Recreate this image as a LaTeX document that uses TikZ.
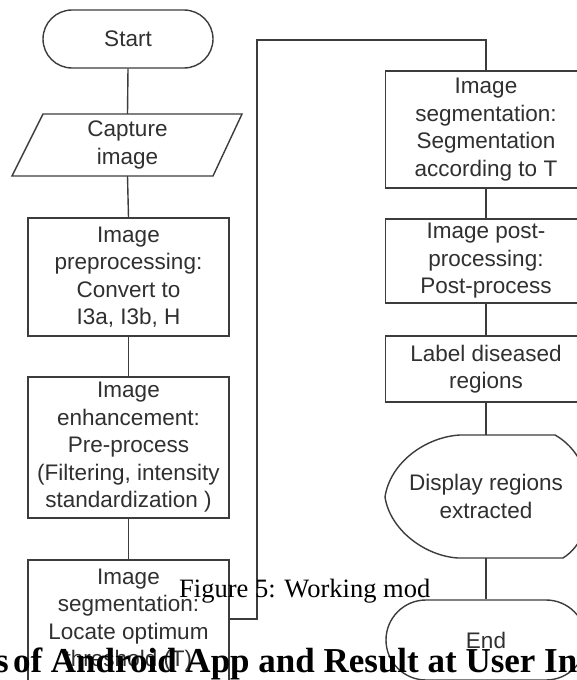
\documentclass[tikz,border=0pt]{standalone}
\usepackage{fontspec}
\setmainfont{Liberation Sans}
\newfontfamily\capserif{Liberation Serif}
\definecolor{linegray}{HTML}{3C3C3C}
\definecolor{textgray}{HTML}{303030}
\begin{document}
\begin{tikzpicture}[x=1pt,y=-1pt,
  flowtext/.style={text=textgray, align=center, font=\fontsize{22.5}{27.5}\selectfont, inner sep=0pt},
  procbox/.style={flowtext, draw=linegray, line width=1.4pt, rectangle, minimum width=201pt},
  termbox/.style={flowtext, draw=linegray, line width=1.4pt, rectangle},
  shapeline/.style={draw=linegray, line width=1.4pt},
  conn/.style={draw=linegray, line width=1.4pt},
  pagetext/.style={anchor=base west, inner sep=0pt, text=black}]
\path[use as bounding box, fill=white] (0,0) rectangle (577,680);
\clip (0,0) rectangle (577,680);

% left column
\node[termbox, minimum width=170pt, minimum height=58pt, rounded corners=29pt] (start) at (128,39) {Start};
\draw[shapeline] (43,114) -- (242,114) -- (213,176) -- (12,176) -- cycle;
\node[flowtext, minimum height=62pt] (capture) at (127.5,145) {Capture\\image};
\node[procbox, minimum height=118pt] (pre) at (128.5,277) {Image\\preprocessing:\\Convert to\\I3a, I3b, H};
\node[procbox, minimum height=141pt] (enh) at (128.5,447.5) {Image\\enhancement:\\Pre-process\\(Filtering, intensity\\standardization )};
\node[procbox, minimum height=140pt] (seg1) at (128.5,630) {};
\node[flowtext] (seg1text) at (128.5,620) {Image\\segmentation:\\Locate optimum\\threshold (T)};

% right column
\node[procbox, minimum height=117pt] (seg2) at (486,129.5) {Image\\segmentation:\\Segmentation\\according to T};
\node[procbox, minimum height=84pt] (post) at (486,261) {Image post-\\processing:\\Post-process};
\node[procbox, minimum height=66pt] (label) at (486,369) {Label diseased\\regions};
\draw[shapeline] (460,435) -- (555,435) .. controls (600,460) and (600,535) .. (563,558) -- (458,558)
  .. controls (425,556) and (390,530) .. (385,497) .. controls (390,463) and (425,437) .. (460,435) -- cycle;
\node[flowtext, minimum height=123pt] (disp) at (486,496.5) {Display regions\\extracted};
\node[termbox, minimum width=200pt, minimum height=80pt, rounded corners=40pt] (end) at (486,640) {End};

% connectors
\draw[conn] (start.south) -- (capture.north);
\draw[conn] (capture.south) -- (pre.north);
\draw[conn] (pre.south) -- (enh.north);
\draw[conn] (enh.south) -- (seg1.north);
\coordinate (j1) at (257,619);
\coordinate (j2) at (257,40);
\draw[conn] (seg1.east |- j1) -- (j1) -- (j2) -- (seg2.north |- j2) -- (seg2.north);
\draw[conn] (seg2.south) -- (post.north);
\draw[conn] (post.south) -- (label.north);
\draw[conn] (label.south) -- (disp.north);
\draw[conn] (disp.south) -- (end.north);

% overlaid page text
\node[pagetext, font=\capserif\fontsize{26.5}{30}\selectfont] (fig) at (179,597) {Figure 5: Working mod};
\node[pagetext, font=\capserif\bfseries\fontsize{35}{40}\selectfont] (title) at (-5,672) {s\hspace{-4.5pt} of Android App and Result at User In};
\end{tikzpicture}
\end{document}
